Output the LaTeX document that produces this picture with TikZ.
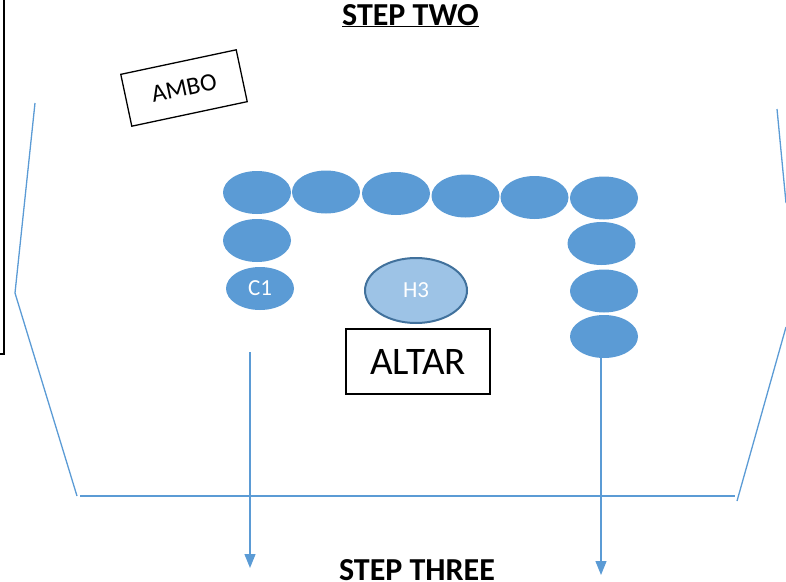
\documentclass[tikz,border=0pt]{standalone}
\usepackage{fontspec}
\setmainfont{Carlito}
\usetikzlibrary{arrows.meta,shapes.geometric}

\definecolor{seatblue}{HTML}{5B9BD5}
\definecolor{hostblue}{HTML}{9DC3E6}
\definecolor{hostedge}{HTML}{41719C}

\tikzset{
  seat/.style={ellipse, fill=seatblue, minimum width=68pt, minimum height=43pt,
    inner sep=0pt, text=white, font=\fontsize{23}{23}\selectfont},
  wall/.style={seatblue, line width=1.3pt},
  walkarrow/.style={seatblue, line width=1.3pt, -{Triangle[width=11pt,length=14pt]}},
  title/.style={font=\fontsize{32}{32}\selectfont\bfseries, anchor=base},
  furniture/.style={draw, line width=1.3pt, inner sep=0pt}
}

\begin{document}
\begin{tikzpicture}[x=1pt,y=-1pt]
        \useasboundingbox (0,0) rectangle (786,581);

        % Titoli
        \node[title] (steptwo) at (410.5,25) {\underline{STEP TWO}};
        \node[title] (stepthree) at (417,580) {STEP THREE};

        % Bordo nero a sinistra
        \draw[line width=2pt] (4,0) -- (4,354) -- (0,354);

        % Pareti del presbiterio
        \draw[wall] (35,103) -- (15,293) -- (77,496);
        \draw[wall] (80,496) -- (735,496);
        \draw[wall] (777,109) -- (786,203);
        \draw[wall] (786,327) -- (737,501);

        % Ambone e altare
        \node[furniture, rotate=12, minimum width=118pt, minimum height=53pt,
              font=\fontsize{25}{25}\selectfont] (ambo) at (184,88) {AMBO};
        \node[furniture, minimum width=144pt, minimum height=65pt,
              font=\fontsize{39}{39}\selectfont] (altar) at (418,361.5) {ALTAR};

        % Sedie: fila in alto
        \foreach \n/\x/\y in {1/257/192.5, 2/326/192, 3/396/193.5, 4/465.5/196, 5/534.5/197.5, 6/604/198}
            \node[seat] (t\n) at (\x,\y) {};

        % Sedie: colonna sinistra e destra
        \node[seat] (l1) at (257,240.5) {};
        \node[seat] (c1) at (260,288.5) {C1};
        \node[seat] (r1) at (601.5,243.5) {};
        \node[seat] (r2) at (604,291) {};
        \node[seat] (r3) at (604,336.5) {};

        % Ostia
        \node[ellipse, fill=hostblue, draw=hostedge, line width=2pt, minimum width=102pt,
              minimum height=65pt, inner sep=0pt, text=white,
              font=\fontsize{23}{23}\selectfont] (h3) at (416,290.5) {H3};

        % Frecce verso lo step tre
        \coordinate (leftstart) at (250,352);
        \coordinate (leftend) at (250,568);
        \coordinate (rightend) at (601,575);
        \draw[walkarrow] (leftstart) -- (leftend);
        \draw[walkarrow] (r3.south -| rightend) -- (rightend);

\end{tikzpicture}
\end{document}
